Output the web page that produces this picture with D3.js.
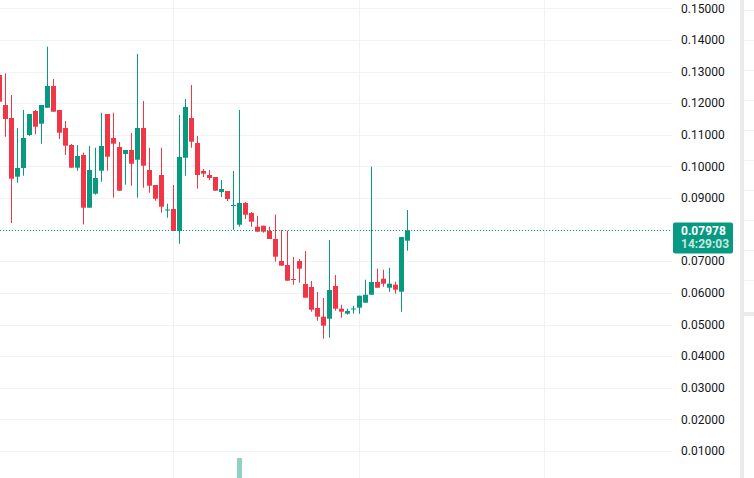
<!DOCTYPE html>
<html>
<head>
<meta charset="utf-8">
<script src="https://cdn.jsdelivr.net/npm/d3@7"></script>
<style>
  html, body { margin: 0; padding: 0; background: #ffffff; }
  svg { display: block; }
  text { font-family: Roboto, "Noto Sans", sans-serif; }
</style>
</head>
<body>
<svg id="chart" width="754" height="478"></svg>
<script>
// ---- data ----
const opens = [0.12891,0.11942,0.11531,0.09674,0.09949,0.10993,0.11752,0.11350,0.11856,0.12543,
  0.11784,0.11214,0.10677,0.09959,0.10360,0.08694,0.09137,0.09864,0.11657,0.10898,
  0.10614,0.10392,0.10519,0.10212,0.11214,0.09886,0.09412,0.09728,0.08621,0.08653,
  0.07957,0.10275,0.11531,0.10740,0.09855,0.09728,0.09665,0.09190,0.09222,0.08763,
  0.08156,0.08843,0.08526,0.08093,0.08125,0.07957,0.07704,0.07008,0.06882,0.06439,
  0.07008,0.06281,0.06186,0.05522,0.05247,0.05183,0.06218,0.05500,0.05342,0.05490,
  0.05531,0.05689,0.05942,0.06344,0.06448,0.06164,0.06259,0.06037,0.07650];
const highs = [0.12985,0.12944,0.12258,0.11214,0.11784,0.11657,0.11784,0.11942,0.13786,0.12764,
  0.11784,0.11436,0.10708,0.10677,0.10433,0.10645,0.10591,0.11698,0.11657,0.11698,
  0.10772,0.10519,0.11056,0.13555,0.12068,0.10591,0.09412,0.10591,0.08820,0.09412,
  0.11625,0.12131,0.12574,0.10961,0.09918,0.09886,0.09665,0.09570,0.09222,0.09855,
  0.11784,0.08874,0.08558,0.08441,0.08125,0.08093,0.08472,0.07989,0.07966,0.07135,
  0.07071,0.07324,0.06376,0.06028,0.05838,0.07672,0.06565,0.05626,0.05500,0.05595,
  0.05911,0.06417,0.09991,0.06765,0.06733,0.06796,0.06354,0.07767,0.08621];
const lows = [0.11950,0.10939,0.08210,0.09485,0.09706,0.10961,0.11015,0.10718,0.11856,0.11730,
  0.10867,0.10360,0.09959,0.09864,0.08169,0.08694,0.09105,0.09516,0.09864,0.09010,
  0.09231,0.09421,0.09390,0.09010,0.09326,0.09168,0.08915,0.08536,0.08378,0.07957,
  0.07555,0.09706,0.10591,0.09295,0.09665,0.09560,0.09231,0.09032,0.08906,0.07998,
  0.08093,0.08337,0.08093,0.07935,0.07903,0.07704,0.06986,0.06860,0.06385,0.06259,
  0.06322,0.05848,0.05405,0.05120,0.04551,0.04583,0.05436,0.05215,0.05310,0.05342,
  0.05342,0.05689,0.05942,0.06164,0.06195,0.06037,0.05974,0.05405,0.07334];
const closes = [0.12046,0.11499,0.09611,0.09949,0.10898,0.11657,0.11256,0.11942,0.12543,0.11730,
  0.11066,0.10655,0.09959,0.10329,0.08694,0.09886,0.09633,0.10645,0.10307,0.10718,
  0.09231,0.10519,0.10085,0.11214,0.10022,0.09390,0.08978,0.08726,0.08637,0.07957,
  0.10297,0.11879,0.10781,0.09728,0.09769,0.09633,0.09231,0.09285,0.08969,0.08779,
  0.08843,0.08472,0.08251,0.07935,0.07935,0.07704,0.07144,0.06860,0.06385,0.06417,
  0.06765,0.05848,0.05468,0.05247,0.04962,0.06091,0.05500,0.05405,0.05427,0.05506,
  0.05911,0.05942,0.06344,0.06164,0.06290,0.06290,0.06101,0.07767,0.07978];
const volumes = [3,3,4,2,3,2,2,2,4,3,
  2,2,2,2,3,3,2,3,3,3,
  2,2,2,4,3,2,2,2,2,3,
  5,4,3,3,2,2,2,2,2,3,
  40,3,2,2,2,2,3,3,3,2,
  2,3,3,3,3,4,3,2,2,2,
  2,2,4,3,2,2,2,3,4];
const priceTicks = [0.01,0.02,0.03,0.04,0.05,0.06,0.07,0.08,0.09,0.10,0.11,0.12,0.13,0.14,0.15];
const lastPrice = 0.07978;
const countdown = "14:29:03";

// ---- layout ----
const W = 754, H = 478;
const paneRight = 672;
const UP = "#089981", DOWN = "#f23645", GRID = "#f0f2f5";

const candles = opens.map((o, i) => ({ i, o, h: highs[i], l: lows[i], c: closes[i], v: volumes[i] }));
const n = candles.length;

const svg = d3.select("#chart");

const x = d3.scaleLinear().domain([0, n - 1]).range([-0.5, -0.5 + 6 * (n - 1)]);
const y = d3.scaleLinear().domain([0, 0.15]).range([482.6, 8.3]);
const yv = d3.scaleLinear().domain([0, d3.max(volumes)]).range([490, 458]);

// vertical grid lines (time)
const vGrid = [173.5, 359.5, 544.5];
svg.append("g").selectAll("line").data(vGrid).join("line")
  .attr("x1", d => d).attr("x2", d => d).attr("y1", 0).attr("y2", H)
  .attr("stroke", GRID).attr("stroke-width", 1);

// horizontal grid lines (price)
svg.append("g").selectAll("line").data(priceTicks).join("line")
  .attr("x1", 0).attr("x2", paneRight)
  .attr("y1", d => Math.round(y(d)) + 0.5).attr("y2", d => Math.round(y(d)) + 0.5)
  .attr("stroke", GRID).attr("stroke-width", 1);

// volume bars
svg.append("g").selectAll("rect").data(candles).join("rect")
  .attr("x", d => Math.round(x(d.i) - 2.5))
  .attr("width", 5)
  .attr("y", d => yv(d.v))
  .attr("height", d => yv(0) - yv(d.v))
  .attr("fill", d => d.c >= d.o ? "rgba(8,153,129,0.45)" : "rgba(242,54,69,0.45)");

// candles
const g = svg.append("g");
g.selectAll("rect.wick").data(candles).join("rect")
  .attr("class", "wick")
  .attr("x", d => Math.round(x(d.i) - 0.5))
  .attr("width", 1)
  .attr("y", d => y(d.h))
  .attr("height", d => Math.max(1, y(d.l) - y(d.h)))
  .attr("fill", d => d.c >= d.o ? UP : DOWN);
g.selectAll("rect.body").data(candles).join("rect")
  .attr("class", "body")
  .attr("x", d => Math.round(x(d.i) - 2.5))
  .attr("width", 5)
  .attr("y", d => y(Math.max(d.o, d.c)))
  .attr("height", d => Math.max(1, Math.abs(y(d.o) - y(d.c))))
  .attr("fill", d => d.c >= d.o ? UP : DOWN);

// last price dotted line
const ly = Math.round(y(lastPrice)) + 0.5;
svg.append("line")
  .attr("x1", 0).attr("x2", paneRight).attr("y1", ly).attr("y2", ly)
  .attr("stroke", UP).attr("stroke-width", 1).attr("stroke-dasharray", "1,2");

// price axis labels
const fmt = d3.format(".5f");
svg.append("g").selectAll("text").data(priceTicks).join("text")
  .attr("x", 681).attr("y", d => y(d))
  .attr("dy", "0.35em")
  .attr("font-size", 12)
  .attr("fill", "#131722")
  .text(d => fmt(d));

// last price label
const lbl = svg.append("g");
lbl.append("rect").attr("x", 673).attr("y", ly - 8).attr("width", 60).attr("height", 31)
  .attr("rx", 2).attr("fill", UP);
lbl.append("text").attr("x", 681).attr("y", ly + 4).attr("font-size", 12).attr("font-weight", "bold")
  .attr("fill", "#ffffff").text(fmt(lastPrice));
lbl.append("text").attr("x", 681).attr("y", ly + 17).attr("font-size", 12).attr("font-weight", "bold")
  .attr("fill", "rgba(255,255,255,0.78)").text(countdown);

// right-edge separator and side panel
svg.append("rect").attr("x", 740).attr("y", 0).attr("width", 4).attr("height", H).attr("fill", "#ebebeb");
svg.append("g").selectAll("line").data(d3.range(10, 300, 30)).join("line")
  .attr("x1", 744).attr("x2", W).attr("y1", d => d + 0.5).attr("y2", d => d + 0.5)
  .attr("stroke", GRID);
svg.append("rect").attr("x", 744).attr("y", 312).attr("width", 10).attr("height", 4).attr("fill", "#ebebeb");
</script>
</body>
</html>
